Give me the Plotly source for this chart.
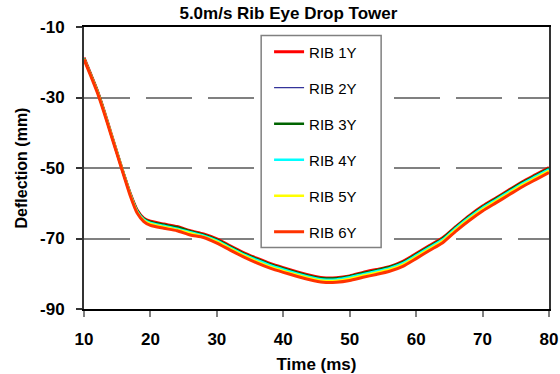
import plotly.graph_objects as go

time_ms = [10, 11, 12, 13, 14, 15, 16, 17, 18, 19, 20, 22, 24, 26, 28, 30, 32, 34, 36, 38, 40,
           42, 44, 46, 48, 50, 52, 54, 56, 58, 60, 62, 64, 66, 68, 70, 72, 74, 76, 78, 80]

rib_1y = [-18.7, -23.3, -28.0, -33.6, -39.7, -45.8, -51.8, -57.4, -61.9, -64.2, -65.1, -65.9, -66.6,
          -67.8, -68.7, -70.1, -72.1, -74.0, -75.6, -77.1, -78.3, -79.4, -80.4, -81.1, -81.1, -80.6,
          -79.6, -78.8, -78.0, -76.5, -74.3, -72.0, -69.8, -66.6, -63.5, -60.8, -58.5, -56.2, -53.9,
          -51.9, -49.9]
rib_2y = [-18.9, -23.4, -28.1, -33.7, -39.8, -45.8, -51.8, -57.5, -62.0, -64.4, -65.3, -66.1, -66.9,
          -67.9, -68.9, -70.3, -72.3, -74.2, -75.8, -77.3, -78.5, -79.6, -80.6, -81.3, -81.3, -80.8,
          -79.8, -79.0, -78.1, -76.7, -74.5, -72.2, -70.0, -66.7, -63.7, -61.0, -58.7, -56.4, -54.1,
          -52.1, -50.1]
rib_3y = [-18.9, -23.4, -28.1, -33.7, -39.8, -45.8, -51.8, -57.5, -62.0, -64.4, -65.3, -66.1, -66.8,
          -67.9, -68.9, -70.3, -72.3, -74.2, -75.8, -77.3, -78.5, -79.6, -80.6, -81.3, -81.3, -80.7,
          -79.8, -79.0, -78.1, -76.7, -74.5, -72.2, -70.0, -66.7, -63.7, -61.0, -58.7, -56.4, -54.1,
          -52.1, -50.1]
rib_4y = [-19.0, -23.5, -28.2, -33.8, -39.8, -45.8, -51.8, -57.6, -62.2, -64.6, -65.6, -66.4, -67.2,
          -68.2, -69.2, -70.6, -72.6, -74.5, -76.1, -77.6, -78.8, -79.9, -80.9, -81.6, -81.6, -81.0,
          -80.1, -79.3, -78.4, -77.0, -74.8, -72.5, -70.3, -67.0, -64.0, -61.3, -59.0, -56.7, -54.4,
          -52.4, -50.4]
rib_5y = [-19.1, -23.6, -28.3, -33.9, -39.9, -45.9, -51.9, -57.8, -62.5, -64.9, -65.9, -66.7, -67.5,
          -68.5, -69.5, -70.9, -72.9, -74.8, -76.5, -78.0, -79.2, -80.3, -81.3, -82.0, -82.0, -81.4,
          -80.5, -79.7, -78.8, -77.4, -75.2, -72.9, -70.7, -67.4, -64.4, -61.7, -59.4, -57.1, -54.8,
          -52.8, -50.8]
rib_6y = [-19.2, -23.8, -28.6, -34.2, -40.2, -46.2, -52.2, -58.1, -62.8, -65.2, -66.3, -67.1, -67.8,
          -69.0, -69.7, -71.3, -73.3, -75.2, -76.9, -78.4, -79.6, -80.7, -81.7, -82.4, -82.4, -81.9,
          -81.0, -80.2, -79.3, -77.9, -75.7, -73.4, -71.2, -67.9, -64.9, -62.2, -59.9, -57.6, -55.3,
          -53.3, -51.3]

series_names = ["RIB 1Y", "RIB 2Y", "RIB 3Y", "RIB 4Y", "RIB 5Y", "RIB 6Y"]
series_values = [rib_1y, rib_2y, rib_3y, rib_4y, rib_5y, rib_6y]
series_colors = ["#FF0000", "#000080", "#006400", "#00FFFF", "#FFFF00", "#FF3300"]
series_widths = [3, 1, 2.5, 2.5, 2.5, 3]

x_ticks = [10, 20, 30, 40, 50, 60, 70, 80]
y_ticks = [-10, -30, -50, -70, -90]

fig = go.Figure()
for i, (name, vals, col, w) in enumerate(zip(series_names, series_values, series_colors, series_widths)):
    fig.add_trace(go.Scatter(
        x=time_ms, y=vals, mode="lines", name=name,
        line=dict(color=col, width=w, shape="spline", smoothing=0.6),
        legendgroup=name,
    ))

font_family = "Arial, Liberation Sans, sans-serif"

# legend frame (white box with grey border, as in the reference)
fig.add_shape(type="rect", xref="paper", yref="paper",
              x0=0.381, x1=0.639, y0=0.218, y1=0.970,
              fillcolor="white", line=dict(color="#808080", width=1.5), layer="above")

fig.update_layout(
    width=560, height=374,
    margin=dict(l=84, r=11, t=27, b=65, autoexpand=False),
    paper_bgcolor="white", plot_bgcolor="white",
    font=dict(family=font_family, color="black"),
    title=dict(text="<b>5.0m/s Rib Eye Drop Tower</b>", x=0.515, xref="container", xanchor="center",
               y=1 - 13 / 374, yref="container", yanchor="middle",
               font=dict(size=17, family=font_family, color="black")),
    showlegend=True,
    legend=dict(x=0.398, y=0.97, xanchor="left", yanchor="top",
                borderwidth=0, bgcolor="rgba(0,0,0,0)",
                font=dict(size=15, family=font_family, color="black"),
                tracegroupgap=13.5, itemwidth=30),
    xaxis=dict(range=[10, 80], tickvals=x_ticks, ticktext=[f"<b>{v}</b>" for v in x_ticks],
               showline=True, linecolor="black", linewidth=2, mirror=True,
               ticks="outside", ticklen=6, tickcolor="#808080", tickwidth=2,
               ticklabelstandoff=8, automargin=False,
               showgrid=False, zeroline=False,
               tickfont=dict(size=17, family=font_family, color="black"),
               title=dict(text="<b>Time (ms)</b>", font=dict(size=17, family=font_family), standoff=12)),
    yaxis=dict(range=[-90, -10], tickvals=y_ticks, ticktext=[f"<b>{v}</b>" for v in y_ticks],
               showline=True, linecolor="#333333", linewidth=2, mirror=True,
               ticks="outside", ticklen=6, tickcolor="#333333", tickwidth=2,
               ticklabelstandoff=8, automargin=False,
               showgrid=True, gridcolor="#808080", gridwidth=2, griddash="46px,16px",
               zeroline=False,
               tickfont=dict(size=17, family=font_family, color="black"),
               title=dict(text="<b>Deflection (mm)</b>", font=dict(size=16, family=font_family), standoff=8)),
)

fig.write_html("out.html")
